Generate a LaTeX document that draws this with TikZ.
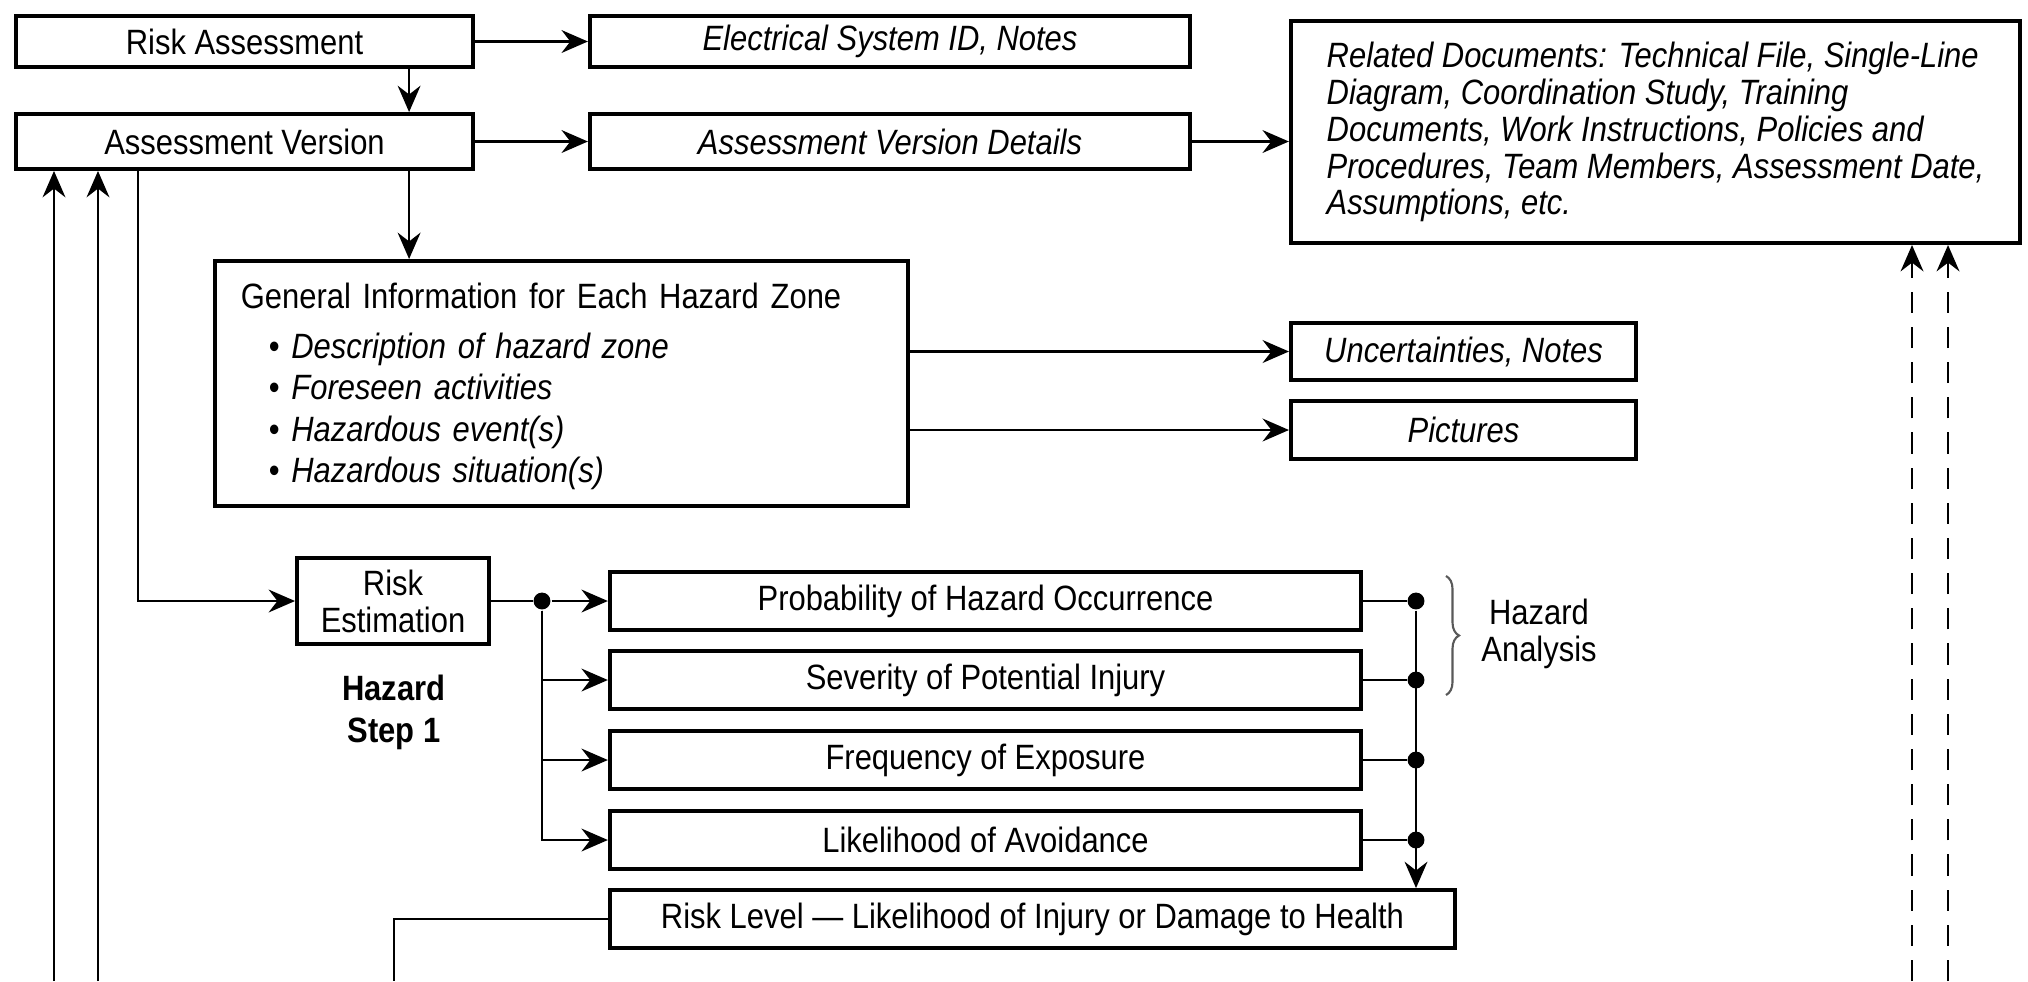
\documentclass[tikz,border=0pt]{standalone}
\usepackage{fontspec}
\setmainfont{Liberation Sans}[FakeStretch=0.88]
\usetikzlibrary{arrows.meta,decorations.pathreplacing}

\tikzset{
  txt/.style={font=\fontsize{10}{10.5}\selectfont, align=center, inner sep=0pt},
  box/.style={txt, draw, line width=1.1pt},
  arr/.style={-{Stealth[length=7.5pt,width=6.5pt,inset=2.5pt]}},
  dot/.style={circle, fill, inner sep=0pt, minimum size=4.8pt},
}

\begin{document}
\begin{tikzpicture}[x=0.01cm, y=-0.01cm, line width=0.6pt]
        \useasboundingbox (0,0) rectangle (2028,981);

        % top row
        \node[box, minimum width=4.57cm, minimum height=0.51cm] (ra) at (244.5,41.5) {Risk Assessment};
        \node[box, minimum width=6.00cm, minimum height=0.51cm] (esid) at (890,41.5) {\itshape Electrical System ID, Notes};
        \node[box, minimum width=4.57cm, minimum height=0.55cm] (av) at (244.5,141.5) {Assessment Version};
        \node[box, minimum width=6.00cm, minimum height=0.55cm] (avd) at (890,141.5) {\itshape Assessment Version Details};

        % related documents
        \node[box, align=left, minimum width=7.29cm, minimum height=2.22cm] (rd) at (1655.5,132) {\itshape
          Related Documents: Technical File, Single-Line\\
          \itshape Diagram, Coordination Study, Training\\
          \itshape Documents, Work Instructions, Policies and\\
          \itshape Procedures, Team Members, Assessment Date,\\
          \itshape Assumptions, etc.};

        % general information
        \node[box, align=left, text width=6.41cm, inner xsep=0.26cm, minimum height=2.45cm] (gi) at (561.5,383.5) {
          \rule{0pt}{9pt}General Information for Each Hazard Zone\\[3.5pt]
          \hspace*{0.28cm}\textbullet\ \textit{Description of hazard zone}\\[1.3pt]
          \hspace*{0.28cm}\textbullet\ \textit{Foreseen activities}\\[1.3pt]
          \hspace*{0.28cm}\textbullet\ \textit{Hazardous event(s)}\\[1.3pt]
          \hspace*{0.28cm}\textbullet\ \textit{Hazardous situation(s)}};
        \node[box, minimum width=3.45cm, minimum height=0.57cm] (unc) at (1463.5,351.5) {\itshape Uncertainties, Notes};
        \node[box, minimum width=3.45cm, minimum height=0.58cm] (pic) at (1463.5,430) {\itshape Pictures};

        % risk estimation
        \node[box, minimum width=1.92cm, minimum height=0.86cm] (re) at (393,601) {Risk\\Estimation};
        \node[txt, font=\fontsize{10}{12}\selectfont\bfseries] (hs) at (394,712) {Hazard\\Step 1};

        \node[box, minimum width=7.51cm, minimum height=0.58cm] (p1) at (985.5,601) {Probability of Hazard Occurrence};
        \node[box, minimum width=7.51cm, minimum height=0.58cm] (p2) at (985.5,680) {Severity of Potential Injury};
        \node[box, minimum width=7.51cm, minimum height=0.58cm] (p3) at (985.5,760) {Frequency of Exposure};
        \node[box, minimum width=7.51cm, minimum height=0.58cm] (p4) at (985.5,840) {Likelihood of Avoidance};
        \node[box, minimum width=8.45cm, minimum height=0.58cm] (rl) at (1032.5,919) {Risk Level --- Likelihood of Injury or Damage to Health};

        % junctions
        \node[dot] (jl) at (542,601) {};
        \node[dot] (jr1) at (1416,601) {};
        \node[dot] (jr2) at (1416,680) {};
        \node[dot] (jr3) at (1416,760) {};
        \node[dot] (jr4) at (1416,840) {};

        % free ends at the bottom
        \coordinate (b1) at (54,981);
        \coordinate (b2) at (98,981);
        \coordinate (b3) at (394,981);
        \coordinate (b4) at (1912,981);
        \coordinate (b5) at (1948,981);

        % connectors, top
        \draw[arr] (ra.east) -- (esid.west);
        \draw[arr] ([xshift=1.645cm]ra.south) -- ([xshift=1.645cm]av.north);
        \draw[arr] (av.east) -- (avd.west);
        \draw[arr] (avd.east) -- (avd.east -| rd.west);
        \draw[arr] ([xshift=1.645cm]av.south) -- ([xshift=1.645cm]av.south |- gi.north);
        \draw[arr] (unc.west -| gi.east) -- (unc.west);
        \draw[arr] (pic.west -| gi.east) -- (pic.west);
        \draw[arr] ([xshift=-1.065cm]av.south) |- (re.west);
        \draw[arr] (b1) -- (b1 |- av.south);
        \draw[arr] (b2) -- (b2 |- av.south);
        \draw[arr, dash pattern=on 6pt off 4pt] (b4) -- (b4 |- rd.south);
        \draw[arr, dash pattern=on 6pt off 4pt] (b5) -- (b5 |- rd.south);

        % connectors, risk estimation
        \draw (re.east) -- (jl);
        \draw[arr] (jl) -- (p1.west);
        \draw[arr] (jl) |- (p2.west);
        \draw[arr] (jl) |- (p3.west);
        \draw[arr] (jl) |- (p4.west);
        \draw (p1.east) -- (jr1);
        \draw (p2.east) -- (jr2);
        \draw (p3.east) -- (jr3);
        \draw (p4.east) -- (jr4);
        \draw[arr] (jr1) -- (jr1 |- rl.north);
        \draw (rl.west) -| (b3);

        % hazard analysis brace
        \draw[gray!70!black, line width=0.6pt, decorate, decoration={brace, amplitude=0.13cm}] (1446,576) -- (1446,695);
        \node[txt] (ha) at (1539,634) {Hazard\\Analysis};
\end{tikzpicture}
\end{document}
